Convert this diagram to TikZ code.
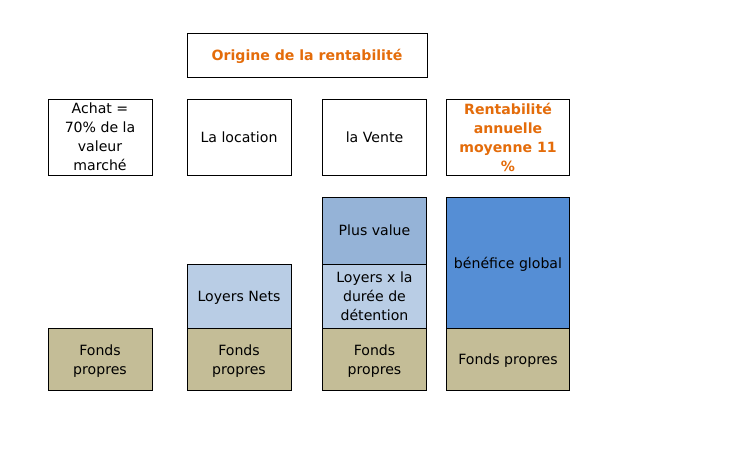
\documentclass[tikz,border=0pt]{standalone}
\usepackage{fontspec}
\setmainfont{DejaVu Sans}
\definecolor{tan}{HTML}{C4BD97}
\definecolor{lblue}{HTML}{B9CDE5}
\definecolor{mblue}{HTML}{95B3D7}
\definecolor{dblue}{HTML}{558ED5}
\definecolor{orng}{HTML}{E46C0A}
\begin{document}
\begin{tikzpicture}[x=1pt,y=-1pt,
  box/.style={draw=black,line width=1pt,inner sep=0pt,outer sep=0pt,align=center,
    font=\fontsize{14.1}{19}\selectfont,text depth=0pt},
  col/.style={box,minimum width=104pt},
  fp/.style={col,fill=tan,minimum height=62pt},
  hdr/.style={col,fill=white,minimum height=76pt},
  hot/.style={text=orng,font=\fontsize{14.1}{19}\selectfont\bfseries}]
\useasboundingbox (0,0) rectangle (730,450);
\fill[white] (0,0) rectangle (730,450);
% headers
\node[box,minimum width=240pt,minimum height=44pt,hot] (title) at (307,55) {Origine de la rentabilité};
\node[hdr] (achat) at (100,137) {Achat =\\70\% de la\\valeur\\marché};
\node[hdr] (loc) at (239,137) {La location};
\node[hdr] (vente) at (374.5,137) {la Vente};
\node[hdr,minimum width=123pt,hot] (rent) at (508,137) {Rentabilité\\annuelle\\moyenne 11\\\%};
% columns
\node[fp] (fp1) at (100,359.5) {Fonds\\propres};
\node[fp] (fp2) at (239,359.5) {Fonds\\propres};
\node[col,fill=lblue,minimum height=64pt] (ln) at (239,296) {Loyers Nets};
\node[fp] (fp3) at (374.5,359.5) {Fonds\\propres};
\node[col,fill=lblue,minimum height=64pt] (lx) at (374.5,296) {Loyers x la\\durée de\\détention};
\node[col,fill=mblue,minimum height=67pt] (pv) at (374.5,230.5) {Plus value};
\node[fp,minimum width=123pt] (fp4) at (508,359.5) {Fonds propres};
\node[col,minimum width=123pt,fill=dblue,minimum height=131pt] (ben) at (508,262.5) {bénéfice global};
\end{tikzpicture}
\end{document}
